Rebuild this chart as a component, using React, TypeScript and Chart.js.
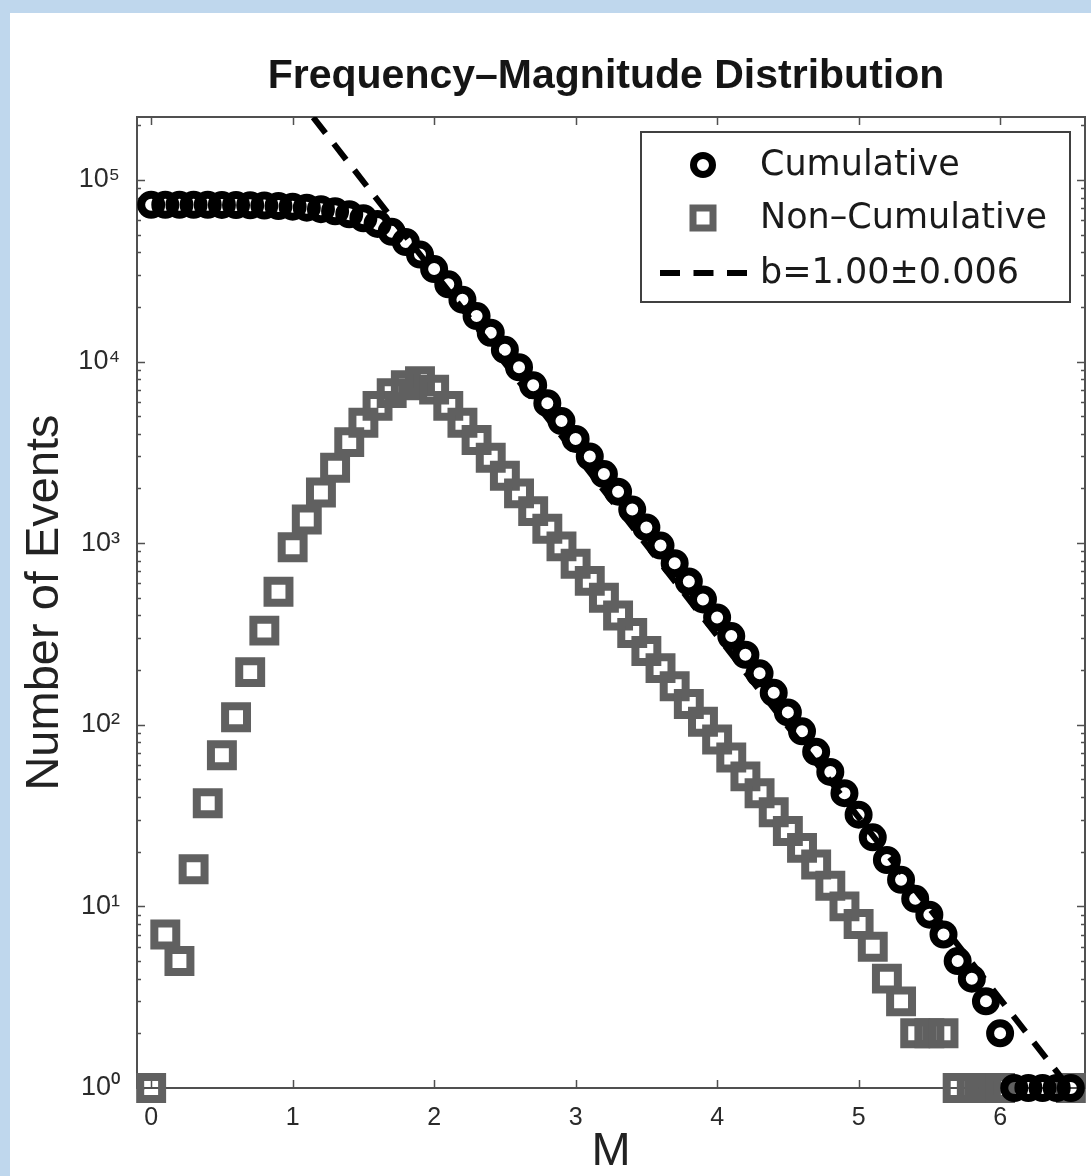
import React, { useEffect, useRef } from 'react';
import { Chart, registerables } from 'chart.js';

Chart.register(...registerables);

const TITLE = 'Frequency–Magnitude Distribution';
const X_TITLE = 'M';
const Y_TITLE = 'Number of Events';
const LEGEND_LABELS = ['Cumulative', 'Non–Cumulative', 'b=1.00±0.006'];

const MAGNITUDES = [
  0.0, 0.1, 0.2, 0.3, 0.4, 0.5, 0.6, 0.7, 0.8, 0.9,
  1.0, 1.1, 1.2, 1.3, 1.4, 1.5, 1.6, 1.7, 1.8, 1.9,
  2.0, 2.1, 2.2, 2.3, 2.4, 2.5, 2.6, 2.7, 2.8, 2.9,
  3.0, 3.1, 3.2, 3.3, 3.4, 3.5, 3.6, 3.7, 3.8, 3.9,
  4.0, 4.1, 4.2, 4.3, 4.4, 4.5, 4.6, 4.7, 4.8, 4.9,
  5.0, 5.1, 5.2, 5.3, 5.4, 5.5, 5.6, 5.7, 5.8, 5.9,
  6.0, 6.1, 6.2, 6.3, 6.4, 6.5,
];

const CUMULATIVE = [
  73000, 73000, 73000, 72900, 72900, 72800, 72700, 72500, 72200, 71800,
  71200, 70300, 69000, 67200, 64700, 61500, 57200, 51800, 45500, 38800,
  32300, 26600, 21900, 17800, 14400, 11600, 9300, 7400, 5900, 4700,
  3750, 3000, 2400, 1920, 1530, 1220, 970, 775, 615, 490,
  390, 308, 243, 192, 150, 117, 92, 71, 55, 42,
  32, 24, 18, 14, 11, 9, 7, 5, 4, 3,
  2, 1, 1, 1, 1, 1,
];

const NON_CUMULATIVE: (number | null)[] = [
  1, 7, 5, 16, 37, 68, 110, 195, 330, 540,
  950, 1350, 1900, 2600, 3600, 4600, 5700, 6700, 7400, 7800,
  7000, 5700, 4600, 3700, 2950, 2350, 1880, 1500, 1200, 960,
  770, 620, 500, 400, 320, 255, 205, 163, 130, 104,
  83, 66, 52, 42, 33, 26, 21, 17, 13, 10,
  8, 6, 4, 3, 2, 2, 2, 1, 1, 1,
  1, null, null, null, null, 1,
];

const FIT_M = [1.0, 6.49];
const FIT_N = [309000, 1];

const X_TICKS = [0, 1, 2, 3, 4, 5, 6];
const Y_TICKS = [1, 10, 100, 1000, 10000, 100000];
const SUPERSCRIPTS = ['⁰', '¹', '²', '³', '⁴', '⁵', '⁶'];

const FONT = '"Liberation Sans", Arial, Helvetica, sans-serif';
const LEGEND_FONT = '"DejaVu Sans", "Liberation Sans", sans-serif';
const CIRCLE_COLOR = '#000000';
const SQUARE_COLOR = '#606060';
const AXIS_COLOR = '#505050';

const framePlugin = {
  id: 'frame',
  beforeDatasetsDraw(chart: any) {
    const { ctx, chartArea: a, scales } = chart;
    const x = scales.x;
    const y = scales.y;
    ctx.save();
    ctx.strokeStyle = AXIS_COLOR;
    ctx.lineWidth = 2;
    ctx.strokeRect(a.left, a.top, a.right - a.left, a.bottom - a.top);
    ctx.lineWidth = 1.5;
    ctx.beginPath();
    for (const t of X_TICKS) {
      const px = Math.round(x.getPixelForValue(t)) + 0.5;
      ctx.moveTo(px, a.bottom);
      ctx.lineTo(px, a.bottom - 8);
      ctx.moveTo(px, a.top);
      ctx.lineTo(px, a.top + 8);
    }
    for (let d = 0; d <= 5; d++) {
      for (let m = 1; m <= 9; m++) {
        const v = m * Math.pow(10, d);
        if (v > y.max) break;
        const py = Math.round(y.getPixelForValue(v)) + 0.5;
        const len = m === 1 ? 8 : 4;
        ctx.moveTo(a.left, py);
        ctx.lineTo(a.left + len, py);
        ctx.moveTo(a.right, py);
        ctx.lineTo(a.right - len, py);
      }
    }
    ctx.stroke();
    ctx.restore();
  },
};

const titleAndLegendPlugin = {
  id: 'titleAndLegend',
  afterDatasetsDraw(chart: any) {
    const { ctx, chartArea: a } = chart;
    ctx.save();
    // title
    ctx.fillStyle = '#151515';
    ctx.font = `bold 41px ${FONT}`;
    ctx.textAlign = 'center';
    ctx.textBaseline = 'middle';
    ctx.fillText(TITLE, (a.left + a.right) / 2 - 5, 64);

    // legend
    const bx = a.right - 444;
    const by = a.top + 15;
    const bw = 429;
    const bh = 170;
    ctx.fillStyle = '#ffffff';
    ctx.fillRect(bx, by, bw, bh);
    ctx.strokeStyle = '#404040';
    ctx.lineWidth = 2;
    ctx.strokeRect(bx, by, bw, bh);

    const mx = bx + 62;
    const rows = [by + 33, by + 86, by + 141];

    ctx.strokeStyle = CIRCLE_COLOR;
    ctx.lineWidth = 7;
    ctx.beginPath();
    ctx.arc(mx, rows[0], 9.5, 0, Math.PI * 2);
    ctx.stroke();

    ctx.strokeStyle = SQUARE_COLOR;
    ctx.lineWidth = 7;
    ctx.strokeRect(mx - 10, rows[1] - 10, 20, 20);

    ctx.strokeStyle = '#000';
    ctx.lineWidth = 6;
    ctx.setLineDash([20, 13.5]);
    ctx.beginPath();
    ctx.moveTo(bx + 19, rows[2]);
    ctx.lineTo(bx + 106, rows[2]);
    ctx.stroke();
    ctx.setLineDash([]);

    ctx.fillStyle = '#1a1a1a';
    ctx.font = `35px ${LEGEND_FONT}`;
    ctx.textAlign = 'left';
    ctx.textBaseline = 'middle';
    LEGEND_LABELS.forEach((t, i) => ctx.fillText(t, bx + 119, rows[i] + 1));
    ctx.restore();
  },
};

export default function App() {
  const ref = useRef<HTMLCanvasElement>(null);

  useEffect(() => {
    if (!ref.current) return;
    const cumPts = MAGNITUDES.map((m, i) => ({ x: m, y: CUMULATIVE[i] }));
    const ncPts = MAGNITUDES.map((m, i) => ({ x: m, y: NON_CUMULATIVE[i] })).filter(
      (p) => p.y !== null
    ) as { x: number; y: number }[];
    const fitPts = FIT_M.map((m, i) => ({ x: m, y: FIT_N[i] }));

    const chart = new Chart(ref.current, {
      type: 'scatter',
      data: {
        datasets: [
          {
            label: LEGEND_LABELS[0],
            data: cumPts,
            showLine: false,
            pointStyle: 'circle',
            pointRadius: 10,
            pointHoverRadius: 10,
            pointBorderWidth: 8,
            borderWidth: 8,
            pointBorderColor: CIRCLE_COLOR,
            borderColor: CIRCLE_COLOR,
            pointBackgroundColor: 'rgba(0,0,0,0)',
            backgroundColor: 'rgba(0,0,0,0)',
            clip: false,
            order: 0,
          } as any,
          {
            label: LEGEND_LABELS[1],
            data: ncPts,
            showLine: false,
            pointStyle: 'rect',
            pointRadius: 15.5,
            pointHoverRadius: 15.5,
            pointBorderWidth: 8,
            borderWidth: 8,
            pointBorderColor: SQUARE_COLOR,
            borderColor: SQUARE_COLOR,
            pointBackgroundColor: 'rgba(0,0,0,0)',
            backgroundColor: 'rgba(0,0,0,0)',
            clip: false,
            order: 2,
          } as any,
          {
            label: LEGEND_LABELS[2],
            type: 'line',
            data: fitPts,
            showLine: true,
            borderColor: '#000',
            borderWidth: 6,
            borderDash: [20, 13.5],
            pointRadius: 0,
            fill: false,
            clip: 0,
            order: 1,
          } as any,
        ],
      },
      options: {
        animation: false,
        responsive: false,
        events: [],
        layout: { autoPadding: false, padding: { top: 104, right: 6, bottom: 0, left: 0 } },
        plugins: {
          legend: { display: false },
          title: { display: false },
          tooltip: { enabled: false },
        },
        scales: {
          x: {
            type: 'linear',
            min: -0.1,
            max: 6.6,
            grid: { display: false },
            border: { display: false },
            afterBuildTicks: (s: any) => {
              s.ticks = X_TICKS.map((v) => ({ value: v }));
            },
            afterFit: (s: any) => {
              s.height = 88;
              s.paddingLeft = 0;
              s.paddingRight = 0;
            },
            ticks: {
              font: { family: FONT, size: 25 },
              color: '#2a2a2a',
              padding: 7,
              maxRotation: 0,
              autoSkip: false,
              callback: (v: any) => String(v),
            },
            title: {
              display: true,
              text: X_TITLE,
              font: { family: FONT, size: 47, lineHeight: 1 },
              color: '#222',
              padding: { top: 0, bottom: 0 },
            },
          },
          y: {
            type: 'logarithmic',
            min: 1,
            max: 222000,
            grid: { display: false },
            border: { display: false },
            afterBuildTicks: (s: any) => {
              s.ticks = Y_TICKS.map((v) => ({ value: v }));
            },
            afterFit: (s: any) => {
              s.width = 127;
              s.paddingTop = 0;
              s.paddingBottom = 0;
            },
            ticks: {
              font: { family: FONT, size: 27 },
              color: '#2a2a2a',
              padding: 9,
              autoSkip: false,
              callback: (v: any) => '10' + SUPERSCRIPTS[Math.round(Math.log10(Number(v)))],
            },
            title: {
              display: true,
              text: Y_TITLE,
              font: { family: FONT, size: 47, lineHeight: 1 },
              color: '#222',
              padding: { top: 12, bottom: 0 },
            },
          },
        },
      } as any,
      plugins: [framePlugin, titleAndLegendPlugin],
    });
    return () => chart.destroy();
  }, []);

  return (
    <div
      style={{
        position: 'absolute',
        left: 0,
        top: 0,
        width: 1091,
        height: 1176,
        background: '#bfd7ed',
        overflow: 'hidden',
      }}
    >
      <div
        style={{
          position: 'absolute',
          left: 10,
          top: 13,
          width: 1081,
          height: 1163,
          background: '#ffffff',
        }}
      >
        <canvas ref={ref} width={1081} height={1163} style={{ display: 'block', width: 1081, height: 1163 }} />
      </div>
    </div>
  );
}
